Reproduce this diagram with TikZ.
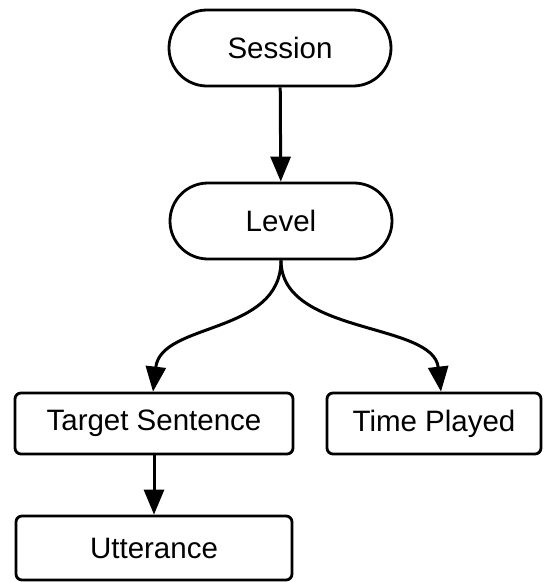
\documentclass[tikz,border=0pt]{standalone}
\usepackage{fontspec}
\setmainfont{Liberation Sans}
\usetikzlibrary{arrows.meta}
\begin{document}
\begin{tikzpicture}[x=1pt,y=-1pt,
  label font/.style={font=\fontsize{29.5}{34}\selectfont},
  pill/.style={draw, line width=2.8pt, rounded corners=38pt, minimum width=222pt,
    minimum height=76pt, inner sep=0pt, label font},
  box/.style={draw, line width=2.8pt, rounded corners=6pt, minimum height=61pt,
    inner sep=0pt, label font},
  link/.style={line width=3pt, -{Triangle[length=25pt,width=20pt]}}]
\useasboundingbox (0,0) rectangle (550,582);

% hierarchy nodes
\node[pill] (session) at (280,48) {Session};
\node[pill] (level) at (281,221) {Level};
\node[box, minimum width=278pt] (target) at (154,423.5) {Target Sentence};
\node[box, minimum width=214pt] (time) at (434,423.5) {Time Played};
\node[box, minimum width=276pt, minimum height=64pt] (utt) at (154,548) {Utterance};

% connectors
\draw[link] (session) -- (level);
\draw[link] (level.south) .. controls +(0,75) and +(8,-70) .. ([xshift=-1pt]target.north);
\draw[link] (level.south) .. controls +(0,75) and +(-8,-70) .. ([xshift=7pt]time.north);
\draw[link] (target) -- (utt);
\end{tikzpicture}
\end{document}
